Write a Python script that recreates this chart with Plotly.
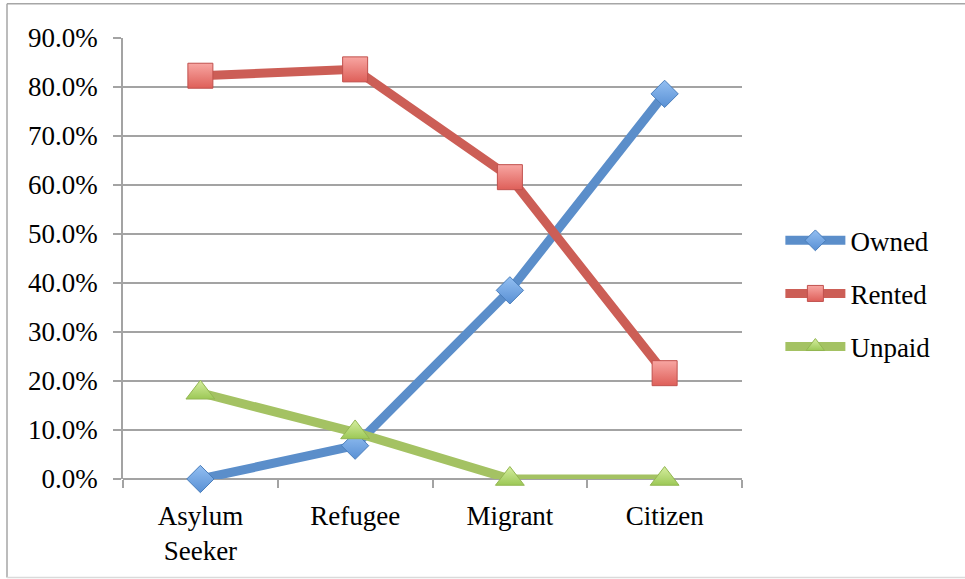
import plotly.graph_objects as go

# Housing tenure by residency status
categories = ["Asylum<br>Seeker", "Refugee", "Migrant", "Citizen"]
owned = [0.0, 0.068, 0.385, 0.786]
rented = [0.823, 0.836, 0.616, 0.216]
unpaid = [0.176, 0.095, 0.0, 0.0]

y_ticks = [0.0, 0.1, 0.2, 0.3, 0.4, 0.5, 0.6, 0.7, 0.8, 0.9]

FONT = "Liberation Serif"
FSIZE = 27
GRID = "#A3A3A3"

series = [
    ("Owned", owned, "#5B8ECA", "diamond", 21, "#93BFF2", "#5990D4", "#4A7EBB"),
    ("Rented", rented, "#CC5E56", "square", 25, "#F8A6A2", "#DE5F59", "#C0504D"),
    ("Unpaid", unpaid, "#A4C263", "triangle-up", 25, "#D6EEA0", "#9CC856", "#93B652"),
]

fig = go.Figure()
for name, vals, line_col, sym, size, top, bottom, edge in series:
    fig.add_trace(go.Scatter(
        x=categories, y=vals, name=name, mode="lines+markers",
        legendgroup=name, cliponaxis=False,
        line=dict(color=line_col, width=9),
        marker=dict(symbol=sym, size=size, color=top,
                    gradient=dict(type="vertical", color=bottom),
                    line=dict(color=edge, width=1)),
    ))

# Chart frame
L, R, B, T = 123, 742, 479.5, 38.3
def px(xp):
    return (xp - L) / (R - L)
def py(yp):
    return (B - yp) / (B - T)

frame = [
    (7, 4, 970, 4, "#A6A6A6"),
    (7, 4, 7, 578, "#A6A6A6"),
    (7, 578, 970, 578, "#DADADA"),
]
for x0, y0, x1, y1, c in frame:
    fig.add_shape(type="line", xref="paper", yref="paper",
                  x0=px(x0), y0=py(y0), x1=px(x1), y1=py(y1),
                  line=dict(color=c, width=1.5), layer="below")

fig.update_layout(
    width=965, height=579,
    margin=dict(l=123, r=965 - 742, t=38, b=99.5),
    paper_bgcolor="white", plot_bgcolor="white",
    font=dict(family=FONT, size=FSIZE, color="black"),
    showlegend=True,
    legend=dict(x=1.062, y=0.42, xanchor="left", yanchor="middle",
                traceorder="grouped", tracegroupgap=15,
                itemwidth=60, font=dict(family=FONT, size=FSIZE, color="black"),
                bgcolor="rgba(0,0,0,0)"),
    xaxis=dict(type="category", range=[-0.5, 3.5], showgrid=False,
               showline=False, zeroline=False,
               ticks="outside", tickson="boundaries", ticklen=8,
               tickcolor=GRID, tickwidth=1.5, ticklabelstandoff=18,
               tickfont=dict(family=FONT, size=FSIZE, color="black")),
    yaxis=dict(range=[0, 0.9], tickvals=y_ticks, tickformat=".1%",
               showgrid=True, gridcolor=GRID, gridwidth=1.5,
               zeroline=True, zerolinecolor=GRID, zerolinewidth=1.5,
               showline=True, linecolor=GRID, linewidth=1.5,
               ticks="outside", ticklen=8, tickcolor=GRID, tickwidth=1.5,
               ticklabelstandoff=10,
               tickfont=dict(family=FONT, size=FSIZE, color="black")),
)

fig.write_html("out.html")
